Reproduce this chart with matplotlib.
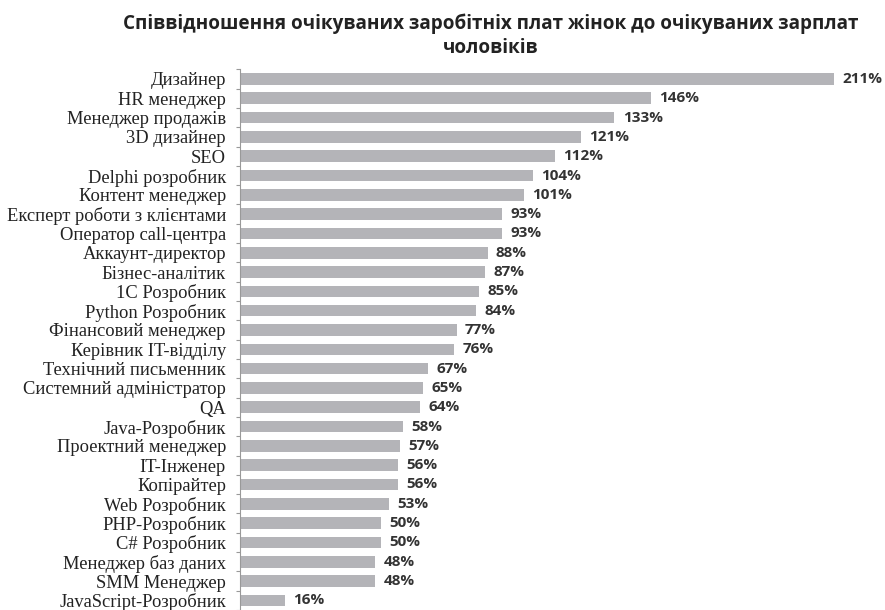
import numpy as np
import matplotlib.pyplot as plt

professions = [
    'Дизайнер', 'HR менеджер', 'Менеджер продажів', '3D дизайнер', 'SEO',
    'Delphi розробник', 'Контент менеджер', 'Експерт роботи з клієнтами',
    'Оператор call-центра', 'Аккаунт-директор', 'Бізнес-аналітик',
    '1С Розробник', 'Python Розробник', 'Фінансовий менеджер',
    'Керівник IT-відділу', 'Технічний письменник', 'Системний адміністратор',
    'QA', 'Java-Розробник', 'Проектний менеджер', 'IT-Інженер', 'Копірайтер',
    'Web Розробник', 'PHP-Розробник', 'C# Розробник', 'Менеджер баз даних',
    'SMM Менеджер', 'JavaScript-Розробник',
]
ratio = [211, 146, 133, 121, 112, 104, 101, 93, 93, 88, 87, 85, 84, 77,
         76, 67, 65, 64, 58, 57, 56, 56, 53, 50, 50, 48, 48, 16]

fig = plt.figure(figsize=(8.85, 6.1), dpi=100)
ax = fig.add_axes([0.271, 0.0, 0.719, 0.8864])

y = np.arange(len(ratio))
ax.barh(y, ratio, height=0.6, color='#b4b4b8')
ax.set_ylim(len(ratio) - 0.5, -0.36)
ax.set_xlim(0, 226)

for yi, v in zip(y, ratio):
    ax.annotate(f'{v}%', (v, yi), xytext=(6, 0), textcoords='offset points',
                va='center', ha='left', fontsize=11, fontweight='bold',
                color='#333333', family='Open Sans')

ax.set_yticks(y)
ax.set_yticklabels(professions, family='Liberation Serif', fontsize=13.3,
                   color='#222222')
ax.set_yticks(np.arange(len(ratio) + 1) - 0.5, minor=True)
ax.tick_params(axis='y', which='major', length=0, pad=10)
ax.tick_params(axis='y', which='minor', length=3, color='#999999', width=0.8)
ax.set_xticks([])
for s in ['top', 'right', 'bottom']:
    ax.spines[s].set_visible(False)
ax.spines['left'].set_color('#999999')
ax.spines['left'].set_linewidth(0.8)

fig.text(0.554, 0.978, 'Співвідношення очікуваних заробітніх плат жінок до очікуваних зарплат\nчоловіків',
         ha='center', va='top', fontsize=13.6, fontweight='bold',
         family='Open Sans', color='#222222', linespacing=1.3)

fig.savefig('out.png', dpi=100)
